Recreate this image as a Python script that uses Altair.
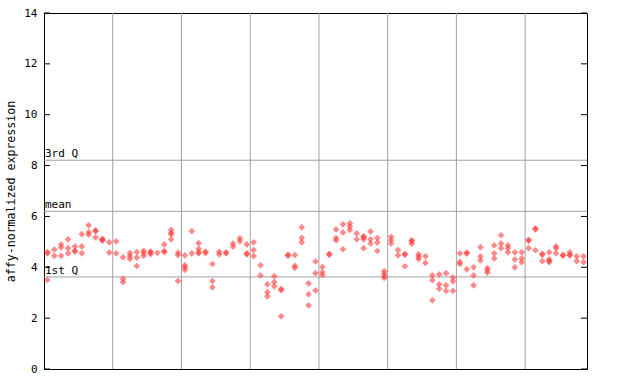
import altair as alt
import pandas as pd

# expression values per sample (column)
expression = [
    [4.6, 4.55, 3.5], [4.7, 4.45], [4.9, 4.78, 4.45], [5.1, 4.75, 4.55],
    [4.82, 4.65, 4.62], [5.3, 4.82, 4.55], [5.65, 5.38, 5.28], [5.45, 5.42, 5.18],
    [5.12, 5.08, 5.05], [4.98, 4.58], [5.02, 4.55], [4.39, 3.55, 3.42],
    [4.56, 4.44, 4.33], [4.6, 4.38, 4.05], [4.65, 4.56, 4.45], [4.62, 4.58, 4.52],
    [4.57], [4.9, 4.64, 4.6], [5.47, 5.35, 5.3, 5.1], [4.58, 4.48, 3.46],
    [4.47, 4.08, 4.0, 3.9], [5.42, 4.55], [4.95, 4.72, 4.6, 4.55], [4.62, 4.56],
    [4.13, 3.46, 3.21], [4.61, 4.51], [4.59, 4.55], [4.93, 4.81],
    [5.14, 5.02], [4.9, 4.55, 4.51], [4.98, 4.68, 4.44], [4.08, 3.68],
    [3.33, 3.02, 2.86], [3.65, 3.42, 3.25], [3.15, 3.1, 2.07], [4.5, 4.45],
    [4.48, 4.06, 3.98], [5.57, 5.16, 4.98], [3.37, 2.94, 2.5], [4.23, 3.77, 3.09],
    [4.01, 3.8, 3.7], [4.53, 4.49], [5.49, 5.15, 5.06], [5.69, 5.37, 4.71],
    [5.73, 5.6, 5.47], [5.33, 5.1], [5.22, 5.18, 5.1, 4.75], [5.41, 5.1, 4.94],
    [5.15, 4.97, 4.64], [3.85, 3.75, 3.65, 3.58], [5.2, 5.07, 4.94], [4.68, 4.47],
    [4.53, 4.49, 4.04], [5.06, 5.02, 4.93], [4.51, 4.42, 4.33], [4.43, 4.17],
    [3.68, 3.49, 2.7], [3.72, 3.33, 3.16], [3.77, 3.29, 3.07], [3.6, 3.45, 3.07],
    [4.55, 4.21, 4.13], [4.58, 4.54, 3.92], [4.0, 3.68, 3.29], [4.79, 4.43, 4.27],
    [3.97, 3.88, 3.79], [4.86, 4.55, 4.35], [5.26, 4.94, 4.75], [4.86, 4.75, 4.59],
    [4.59, 4.31, 4.0], [4.59, 4.35, 4.2], [5.08, 5.04, 4.75], [5.53, 5.49, 4.67],
    [4.53, 4.49, 4.24], [4.59, 4.31, 4.25, 4.2], [4.82, 4.75, 4.55], [4.49, 4.45],
    [4.59, 4.49, 4.47], [4.43, 4.24], [4.43, 4.2],
]

stat_labels = ["3rd Q", "mean", "1st Q"]
stat_values = [8.21, 6.2, 3.62]
group_breaks = [10, 20, 30, 40, 50, 60, 70]
y_ticks = [0, 2, 4, 6, 8, 10, 12, 14]

n_samples = len(expression)
rows = []
for i, vals in enumerate(expression):
    for v in vals:
        rows.append({"sample": i + 0.5, "value": v})
points_df = pd.DataFrame(rows)
stats_df = pd.DataFrame({"label": stat_labels, "value": stat_values})
breaks_df = pd.DataFrame({"b": group_breaks})
ticks_df = pd.DataFrame({"value": y_ticks})

FONT = "DejaVu Sans Mono"
W, H = 543, 356

xscale = alt.Scale(domain=[0, n_samples], nice=False, zero=False)
yscale = alt.Scale(domain=[0, 14], nice=False)
y_axis = alt.Axis(
    values=y_ticks,
    title="affy-normalized expression",
    titleFont=FONT,
    titleFontSize=11.6,
    titleFontWeight="normal",
    titleColor="black",
    titlePadding=7,
    labelFont=FONT,
    labelFontSize=11,
    labelColor="black",
    labelPadding=7,
    ticks=False,
    grid=False,
    domain=False,
)
Y = alt.Y("value:Q", scale=yscale, axis=y_axis)

vgrid = alt.Chart(breaks_df).mark_rule(color="#a0a0a0", strokeWidth=1).encode(
    x=alt.X("b:Q", scale=xscale, axis=None)
)

hlines = alt.Chart(stats_df).mark_rule(color="#a0a0a0", strokeWidth=1).encode(y=Y)

hlabels = alt.Chart(stats_df).mark_text(
    align="left", baseline="bottom", font=FONT, fontSize=11, color="black", dy=-1
).encode(x=alt.value(1), y=Y, text="label:N")

left_ticks = alt.Chart(ticks_df).mark_rule(color="black").encode(
    x=alt.value(0), x2=alt.value(6), y=Y
)
right_ticks = alt.Chart(ticks_df).mark_rule(color="black").encode(
    x=alt.value(W - 6), x2=alt.value(W), y=Y
)

points = alt.Chart(points_df).mark_point(
    shape="diamond", filled=True, size=45, color="#ff3c3c", opacity=0.6, strokeWidth=0
).encode(
    x=alt.X("sample:Q", scale=xscale, axis=None),
    y=Y,
)

chart = (
    alt.layer(vgrid, hlines, hlabels, left_ticks, right_ticks, points)
    .properties(
        width=W,
        height=H,
        autosize=alt.AutoSizeParams(type="none"),
        padding={"left": 44, "top": 13, "right": 640 - 44 - W, "bottom": 384 - 13 - H},
        background="white",
    )
    .configure_view(stroke="black", strokeWidth=1)
)

chart.save("out.html", embed_options={"renderer": "svg", "actions": False})
